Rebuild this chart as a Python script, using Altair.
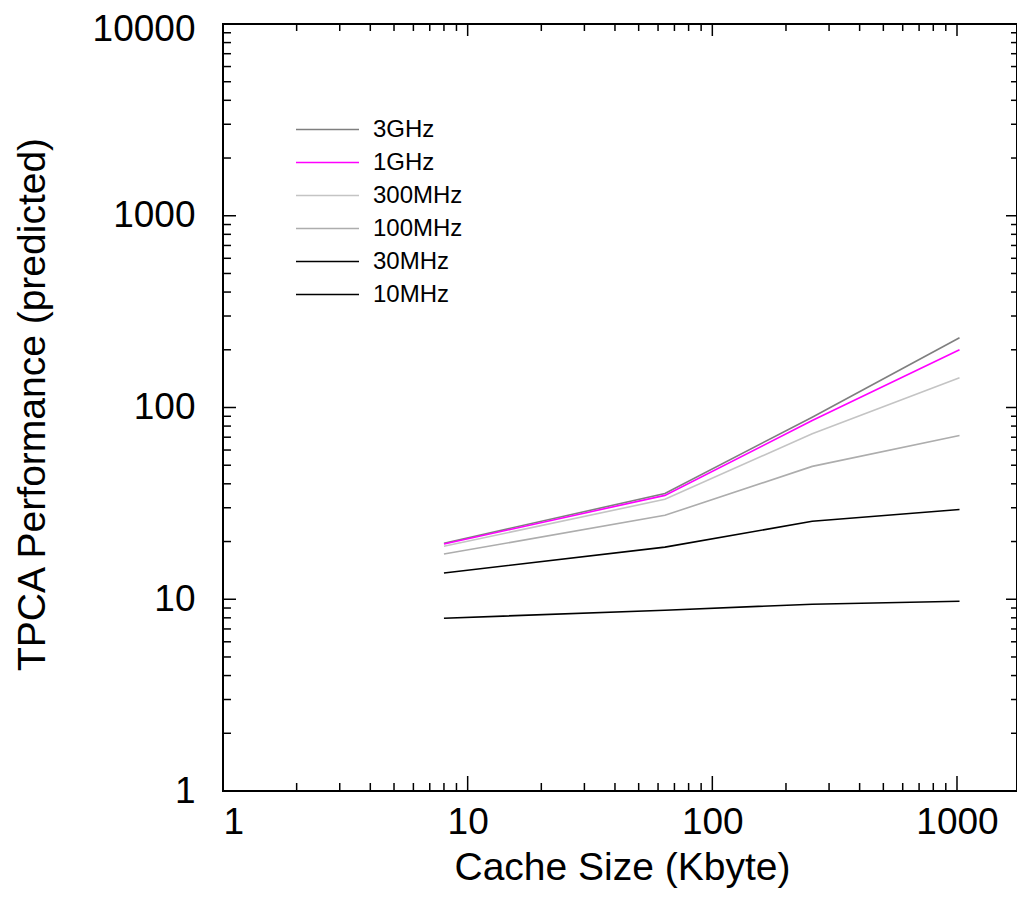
import altair as alt
import pandas as pd

# ---- data ----
cache_kb = [8, 64, 256, 1024]
series_names = ["3GHz", "1GHz", "300MHz", "100MHz", "30MHz", "10MHz"]
perf_3ghz = [19.6, 35.6, 89.0, 231.0]
perf_1ghz = [19.4, 34.8, 85.5, 200.0]
perf_300mhz = [18.9, 33.2, 73.0, 143.0]
perf_100mhz = [17.2, 27.4, 49.3, 71.5]
perf_30mhz = [13.7, 18.7, 25.5, 29.4]
perf_10mhz = [7.96, 8.77, 9.42, 9.77]
series_colors = ["#7f7f7f", "#ff00ff", "#c4c4c4", "#adadad", "#000000", "#000000"]

x_major = [1, 10, 100, 1000]
x_minor = [2, 3, 4, 5, 6, 7, 8, 9, 20, 30, 40, 50, 60, 70, 80, 90,
           200, 300, 400, 500, 600, 700, 800, 900]
y_major = [1, 10, 100, 1000, 10000]
y_minor = [m * d for d in [1, 10, 100, 1000] for m in [2, 3, 4, 5, 6, 7, 8, 9]]

all_series = [perf_3ghz, perf_1ghz, perf_300mhz, perf_100mhz, perf_30mhz, perf_10mhz]
rows = []
for name, vals in zip(series_names, all_series):
    for c, v in zip(cache_kb, vals):
        rows.append({"cache": c, "perf": v, "clock": name})
df = pd.DataFrame(rows)

W, H = 794, 767
FONT = "Liberation Sans"

xscale = alt.Scale(type="log", domain=[1, 1759], nice=False)
yscale = alt.Scale(type="log", domain=[1, 10000], nice=False)

x_axis = alt.Axis(values=x_major, format="d", title="Cache Size (Kbyte)",
                  ticks=False, domain=False, grid=False,
                  labelFontSize=37, labelPadding=13,
                  titleFontSize=39, titleFontWeight="normal",
                  titleBaseline="alphabetic", titleY=88, titleX=W / 2 + 2)
y_axis = alt.Axis(values=y_major, format="d", title="TPCA Performance (predicted)",
                  ticks=False, domain=False, grid=False,
                  labelFontSize=37, labelPadding=28,
                  labelOffset={"condition": {"test": "datum.value >= 10000", "value": 5},
                               "value": 0},
                  titleFontSize=39, titleFontWeight="normal",
                  titleBaseline="alphabetic", titleX=-179, titleY=380,
                  titleAngle=270, titleAlign="center")

lines = alt.Chart(df).transform_calculate(
    clock_order="indexof(['10MHz','30MHz','100MHz','300MHz','3GHz','1GHz'], datum.clock)"
).mark_line(strokeWidth=1.6, clip=True).encode(
    x=alt.X("cache:Q", scale=xscale, axis=x_axis),
    y=alt.Y("perf:Q", scale=yscale, axis=y_axis),
    color=alt.Color("clock:N",
                    scale=alt.Scale(domain=series_names, range=series_colors),
                    sort=series_names,
                    legend=alt.Legend(title=None, orient="none", legendX=72, legendY=89,
                                      symbolType="stroke", symbolSize=3969,
                                      symbolStrokeWidth=1.6, labelFontSize=24,
                                      labelOffset=13, clipHeight=33, rowPadding=0,
                                      padding=0, labelFont=FONT, labelColor="black")),
    order=alt.Order("clock_order:Q"),
)


def tick_layer(values, orient, length):
    tdf = pd.DataFrame({"v": values})
    base = alt.Chart(tdf).mark_rule(color="black", strokeWidth=1.5)
    if orient == "bottom":
        return base.encode(x=alt.X("v:Q", scale=xscale, axis=x_axis),
                           y=alt.value(H), y2=alt.value(H - length))
    if orient == "top":
        return base.encode(x=alt.X("v:Q", scale=xscale, axis=x_axis),
                           y=alt.value(0), y2=alt.value(length))
    if orient == "left":
        return base.encode(y=alt.Y("v:Q", scale=yscale, axis=y_axis),
                           x=alt.value(0), x2=alt.value(length))
    return base.encode(y=alt.Y("v:Q", scale=yscale, axis=y_axis),
                       x=alt.value(W), x2=alt.value(W - length))


ticks = [
    tick_layer(x_major, "bottom", 15), tick_layer(x_minor, "bottom", 8),
    tick_layer(x_major, "top", 12), tick_layer(x_minor, "top", 7),
    tick_layer(y_major, "left", 13), tick_layer(y_minor, "left", 8),
    tick_layer(y_major, "right", 11), tick_layer(y_minor, "right", 6),
]

chart = alt.layer(lines, *ticks).properties(
    width=W, height=H,
    background="white",
    autosize=alt.AutoSizeParams(type="none"),
    padding={"left": 215, "top": 16, "right": 0, "bottom": 97},
).configure_view(stroke="black", strokeWidth=2).configure_axis(
    labelFont=FONT, titleFont=FONT, labelColor="black", titleColor="black"
)

chart.save("out.html", embed_options={"renderer": "svg", "actions": False})
